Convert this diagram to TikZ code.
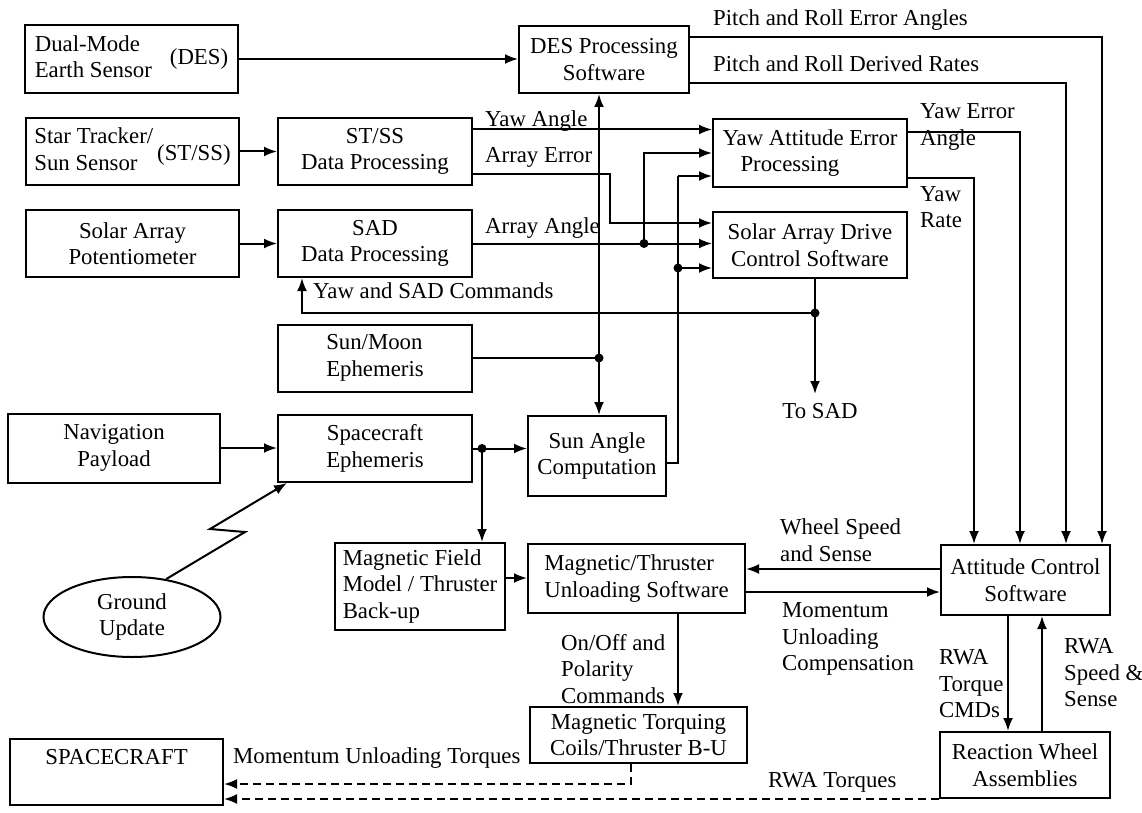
\documentclass[tikz,border=0pt]{standalone}
\usepackage{fontspec}
\setmainfont{Liberation Serif}
\usetikzlibrary{arrows.meta,shapes.geometric,calc}
\tikzset{
  blk/.style={draw,line width=2pt,align=center,inner sep=2pt},
  lbl/.style={inner sep=0pt,align=left},
  ln/.style={line width=2pt},
  ar/.style={-{Latex[length=13pt,width=10pt]},line width=2pt},
  dar/.style={ar,dash pattern=on 8pt off 5pt},
}
\begin{document}
\begin{tikzpicture}[x=1pt,y=-1pt,font=\fontsize{22.8}{26.5}\selectfont]
\useasboundingbox (0,0) rectangle (1142,813);
% sensors and data processing
\node[blk,minimum width=213pt,minimum height=68pt] (des) at (131.5,59) {\begin{tabular}{@{}l@{}}Dual-Mode\\Earth Sensor\end{tabular}\hspace{18pt}(DES)};
\node[blk,minimum width=213pt,minimum height=67pt] (st) at (132.5,151.5) {\begin{tabular}{@{}l@{}}Star Tracker/\\Sun Sensor\end{tabular}\hspace{4pt}\raisebox{-4pt}{(ST/SS)}};
\node[blk,minimum width=213pt,minimum height=67pt] (sap) at (132.5,243.5) {Solar Array\\Potentiometer};
\node[blk,minimum width=194pt,minimum height=67pt] (sstp) at (375,151.5) {ST/SS\\Data Processing};
\node[blk,minimum width=194pt,minimum height=67pt] (sadp) at (375,243.5) {SAD\\Data Processing};
\node[blk,minimum width=194pt,minimum height=67pt,align=left] (sme) at (375,358) {Sun/Moon\\Ephemeris};
\node[blk,minimum width=194pt,minimum height=67pt] (sce) at (375,448.5) {Spacecraft\\Ephemeris};
\node[blk,minimum width=212pt,minimum height=69pt] (nav) at (114,448) {Navigation\\Payload};
\node[blk,ellipse,minimum width=177pt,minimum height=80pt,inner sep=0pt] (gu) at (132,617) {Ground\\Update};
% software blocks
\node[blk,minimum width=170pt,minimum height=67pt] (desp) at (604,59.5) {DES Processing\\Software};
\node[blk,minimum width=194pt,minimum height=68pt,align=left] (yaw) at (810,153) {Yaw Attitude Error\\\hspace*{18pt}Processing};
\node[blk,minimum width=194pt,minimum height=66pt] (sadc) at (810,245) {Solar Array Drive\\Control Software};
\node[blk,minimum width=138pt,minimum height=80pt] (sun) at (597,456) {Sun Angle\\Computation};
\node[blk,minimum width=170pt,minimum height=87pt,align=left] (mfm) at (420,586.5) {Magnetic Field\\Model / Thruster\\Back-up};
\node[blk,minimum width=217pt,minimum height=69pt,align=left] (mtu) at (636.5,578.5) {Magnetic/Thruster\\Unloading Software};
\node[blk,minimum width=217pt,minimum height=56pt] (mtc) at (638.5,735) {Magnetic Torquing\\Coils/Thruster B-U};
\node[blk,minimum width=169pt,minimum height=70pt] (acs) at (1025.5,580) {Attitude Control\\Software};
\node[blk,minimum width=170pt,minimum height=66pt] (rwa) at (1025,765) {Reaction Wheel\\Assemblies};
\node[blk,minimum width=213pt,minimum height=66pt,text height=16pt,text depth=31pt] (sc) at (116.5,772) {SPACECRAFT};
% labels
\node[lbl,anchor=base west] (pre) at (713,26) {Pitch and Roll Error Angles};
\node[lbl,anchor=base west] (prd) at (713,72) {Pitch and Roll Derived Rates};
\node[lbl,anchor=base west] (ya) at (485,127) {Yaw Angle};
\node[lbl,anchor=base west] (aerr) at (485,163) {Array Error};
\node[lbl,anchor=base west] (aang) at (485,233) {Array Angle};
\node[lbl,anchor=base west] (ysc) at (313,298) {Yaw and SAD Commands};
\node[lbl,anchor=west] (yea) at (920,127) {Yaw Error\\Angle};
\node[lbl,anchor=west] (yr) at (920,207) {Yaw\\Rate};
\node[lbl,inner ysep=9pt,anchor=north] (tosad) at (820,394) {To SAD};
\node[lbl,anchor=west] (wss) at (780,540) {Wheel Speed\\and Sense};
\node[lbl,anchor=west] (muc) at (782,639) {Momentum\\Unloading\\Compensation};
\node[lbl,anchor=west] (ooc) at (561,669) {On/Off and\\Polarity\\Commands};
\node[lbl,anchor=west] (rtc) at (939,684) {RWA\\Torque\\CMDs};
\node[lbl,anchor=west] (rss) at (1064,673) {RWA\\Speed \&\\Sense};
\node[lbl,anchor=base west] (mut) at (233,763) {Momentum Unloading Torques};
\node[lbl,anchor=base west] (rwt) at (768,787) {RWA Torques};
% junctions
\coordinate (j1) at (599,358);
\coordinate (j2) at (644,243.5);
\coordinate (j3) at (678,268);
\coordinate (j4) at (815,313);
\coordinate (j5) at (482,448.5);
\coordinate (ae) at (610,223);
\coordinate (sv) at (678,176);
\coordinate (z1) at (245,532);
\coordinate (z2) at (210,529);
% sensor inputs
\draw[ar] (des.east) -- (des.east -| desp.west);
\draw[ar] (st.east) -- (sstp.west);
\draw[ar] (sap.east) -- (sadp.west);
\draw[ar] (nav.east) -- (nav.east -| sce.west);
\draw[ar] (gu.48) -- (z1) -- (z2) -- ([xshift=10pt]sce.south west);
% yaw and array signals
\draw[ar] ([yshift=22pt]sstp.east) -- ([yshift=22pt]sstp.east -| yaw.west);
\draw[ar] ([yshift=-23pt]sstp.east) -| (ae) -- (ae -| sadc.west);
\draw[ar] (sadp.east) -- (sadp.east -| sadc.west);
\draw[ar] (j2) |- (yaw.west);
\draw[ln] ([yshift=-7pt]sun.east) -| (sv);
\draw[ar] (sv) -- (sv -| yaw.west);
\draw[ar] (j3) -- (j3 -| sadc.west);
% ephemeris
\draw[ln] (sme.east) -- (j1);
\draw[ar] (j1) -- (j1 |- desp.south);
\draw[ar] (j1) -- (j1 |- sun.north);
\draw[ln] (sce.east) -- (j5);
\draw[ar] (j5) -- (j5 -| sun.west);
\draw[ar] (j5) -- (j5 |- mfm.north);
% SAD commands
\draw[ar] ([xshift=5pt]sadc.south) -- (j4 |- tosad.north);
\draw[ar] (j4) -| ([xshift=-73pt]sadp.south);
% to attitude control
\draw[ar] ([yshift=22pt]desp.east) -| ([xshift=76.5pt]acs.north);
\draw[ar] ([yshift=-23.5pt]desp.east) -| ([xshift=40.5pt]acs.north);
\draw[ar] ([yshift=21pt]yaw.east) -| ([xshift=-5.5pt]acs.north);
\draw[ar] ([yshift=-25pt]yaw.east) -| ([xshift=-51.5pt]acs.north);
% unloading loop
\draw[ar] ([yshift=8.5pt]mfm.east) -- ([yshift=8.5pt]mfm.east -| mtu.west);
\draw[ar] ([yshift=11pt]acs.west) -- ([yshift=11pt]acs.west -| mtu.east);
\draw[ar] ([yshift=-13.5pt]mtu.east) -- ([yshift=-13.5pt]mtu.east -| acs.west);
\draw[ar] ([xshift=41.5pt]mtu.south) -- ([xshift=41.5pt]mtu.south |- mtc.north);
\draw[ar] ([xshift=-17.5pt]acs.south) -- ([xshift=-17.5pt]acs.south |- rwa.north);
\draw[ar] ([xshift=17pt]rwa.north) -- ([xshift=17pt]rwa.north |- acs.south);
% torques on spacecraft
\draw[dar] ([xshift=-7.5pt]mtc.south) |- ([yshift=-12pt]sc.east);
\draw[dar] (rwa.south west) -- (rwa.south west -| sc.east);
% dots
\foreach \j in {j1,j2,j3,j4,j5}
  \fill (\j) circle[radius=4.5pt];
\end{tikzpicture}
\end{document}
